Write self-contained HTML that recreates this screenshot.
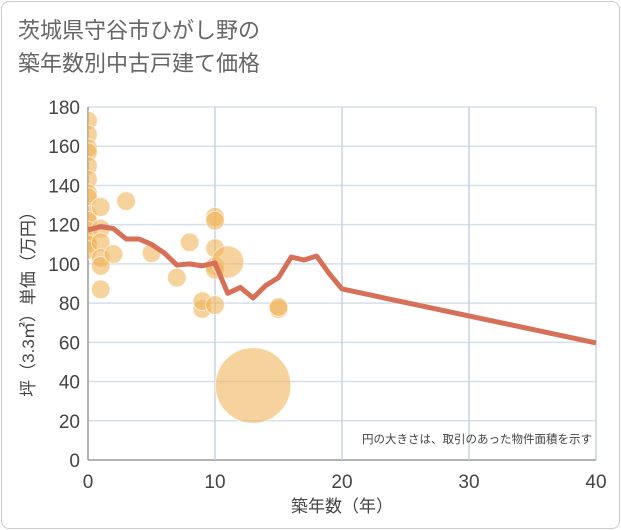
<!DOCTYPE html>
<html><head><meta charset="utf-8"><style>
body{margin:0;background:#fff;font-family:"Liberation Sans","Noto Sans CJK JP",sans-serif;}
#wrap{position:relative;width:621px;height:530px;}
.frame{position:absolute;left:1px;top:1px;width:617px;height:526px;border:1px solid #ccc;border-radius:8px;}
.title{position:absolute;left:18px;top:14px;font-size:22px;line-height:33px;color:#666;}
</style></head><body>
<div id="wrap">
<div class="frame"></div>
<div class="title">茨城県守谷市ひがし野の<br>築年数別中古戸建て価格</div>
<svg id="chart" width="621" height="530" style="position:absolute;left:0;top:0"><defs><clipPath id="pc"><rect x="88" y="100" width="520" height="360"/></clipPath></defs></svg>
</div>
<script>
const lineYears=[0,1,2,3,4,5,6,7,8,9,10,11,12,13,14,15,16,17,18,19,20,40];
const linePrices=[117.3,119,118,112.7,112.7,110,105.6,99.4,100,99,100.5,85,88,82.6,89,93,103.5,102,104,95,87.2,59.7];
const ptYears=[0,0,0,0,0,0,0,0,0,0,0,0,0,0,1,1,1,1,1,1,2,3,5,7,8,9,9,10,10,10,10,10,10,11,13,15,15];
const ptPrices=[173,166,159,157,150,143,136,134,125,122,117,112,110,107,129,118,111,103,99,87,105,132,105.5,93,111,77,81,124,122,108,99,79,97,101,38,77,78];
const ptSizes=[1,1,1,1,1,1,1,1,1,1,1,1,1,1,1,1,1,1,1,1,1,1,1,1,1,1,1,1,1,1,1,1,1,6,22,1,1];
const xTicks=[0,10,20,30,40];
const yTicks=[0,20,40,60,80,100,120,140,160,180];
const NS="http://www.w3.org/2000/svg";
const svg=document.getElementById('chart');
const X0=88,X1=596,Y0=460,Y1=107;
const xs=v=>X0+(v/40)*(X1-X0);
const ys=v=>Y0-(v/180)*(Y0-Y1);
function mk(t,a){const e=document.createElementNS(NS,t);for(const k in a)e.setAttribute(k,a[k]);svg.appendChild(e);return e;}
yTicks.forEach(t=>{
 const l=mk('line',{x1:X0,x2:X1,y1:ys(t),y2:ys(t),stroke:t===0?'#999':'#d5dfea','stroke-width':1.5});
 
 
 const tx=mk('text',{x:X0-8,y:ys(t)+7,'text-anchor':'end','font-size':19,fill:'#444'});
 tx.textContent=t;
 
 
});
xTicks.forEach(t=>{
 const l=mk('line',{x1:xs(t),x2:xs(t),y1:Y1,y2:Y0,stroke:t===0?'#999':'#c8d4e2','stroke-width':1.5});
 
 
 const tx=mk('text',{x:xs(t),y:Y0+28,'text-anchor':'middle','font-size':19,fill:'#444'});
 tx.textContent=t;
 
 
});
ptYears.forEach((yr,i)=>{
 const r=8+ptSizes[i]*1.35;
 const c=mk('circle',{cx:xs(yr),cy:ys(ptPrices[i]),r:r,fill:'rgba(240,180,90,0.6)',stroke:'rgba(255,255,255,0.6)','stroke-width':1,'clip-path':'url(#pc)'});
 
 
});
const p=mk('polyline',{points:lineYears.map((y,i)=>xs(y)+','+ys(linePrices[i])).join(' '),fill:'none',stroke:'#d67059','stroke-width':5,'stroke-linejoin':'round'});


const note=mk('text',{x:592,y:443,'text-anchor':'end','font-size':11.5,fill:'#444'});
note.textContent='円の大きさは、取引のあった物件面積を示す';


const xl=mk('text',{x:342,y:512,'text-anchor':'middle','font-size':17,fill:'#444'});
xl.textContent='築年数（年）';


const yl=mk('text',{x:0,y:0,'text-anchor':'middle','font-size':17,fill:'#444',transform:'translate(34,300) rotate(-90)'});
yl.textContent='坪（3.3㎡）単価（万円）';


</script>
</body></html>
